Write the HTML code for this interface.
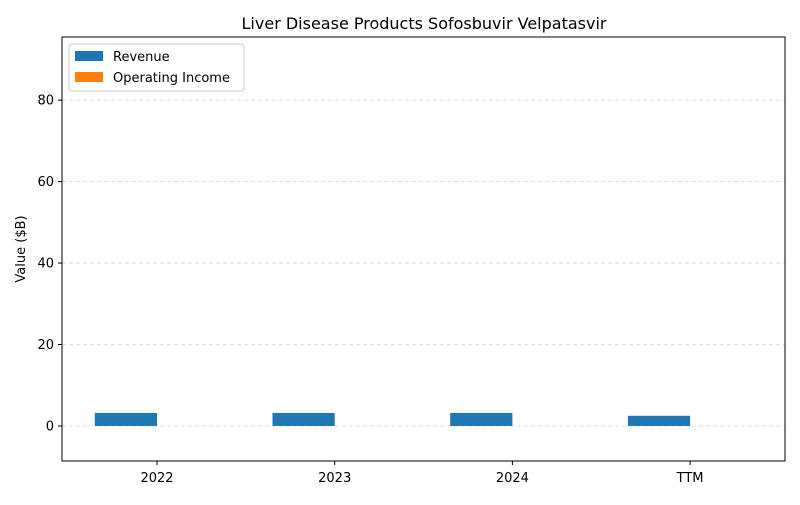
<!DOCTYPE html>
<html><head><meta charset="utf-8"><style>
body{margin:0;background:#fff;font-family:"Liberation Sans","DejaVu Sans",sans-serif}
svg text{font-family:"DejaVu Sans","Liberation Sans",sans-serif}
</style></head><body>
<svg id="chart" width="800" height="500" xmlns="http://www.w3.org/2000/svg">
<rect width="800" height="500" fill="#fff"/>
<text x="424" y="29" text-anchor="middle" font-size="16">Liver Disease Products Sofosbuvir Velpatasvir</text>
<g id="grid"></g><g id="bars"></g>
<rect x="62" y="37" width="723" height="424" fill="none" stroke="#000" stroke-width="1"/>
<g id="axes"></g>
<text transform="translate(25,249) rotate(-90)" text-anchor="middle" font-size="13">Value ($B)</text>
<g>
<rect x="69" y="44" width="175" height="47" fill="#fff" stroke="#ccc" rx="3"/>
<rect x="75" y="51" width="28" height="10" fill="#1f77b4"/>
<text x="113" y="61" font-size="13">Revenue</text>
<rect x="75" y="72" width="28" height="10" fill="#ff7f0e"/>
<text x="113" y="82" font-size="13">Operating Income</text>
</g>
</svg>
<script>
const categories=["2022","2023","2024","TTM"];
const revenue=[3.2,3.2,3.2,2.5];
const operatingIncome=[0,0,0,0];
const yTicks=[0,20,40,60,80];
const NS="http://www.w3.org/2000/svg";
const yMin=-8.6,yMax=95.5,plotTop=37,plotBot=461;
function y(v){return plotBot-(v-yMin)/(yMax-yMin)*(plotBot-plotTop);}
function x(i){return 157+i*177.7;}
const bw=0.35*177.7;
function mk(tag,attrs,parent){const e=document.createElementNS(NS,tag);for(const k in attrs)e.setAttribute(k,attrs[k]);document.getElementById(parent).appendChild(e);return e;}
yTicks.forEach(t=>{
  const g=mk("line",{x1:62,x2:785,y1:y(t),y2:y(t),stroke:"#d3d3d3","stroke-dasharray":"4,3","stroke-width":0.8},"grid");
  
  
  const tk=mk("line",{x1:58,x2:62,y1:y(t),y2:y(t),stroke:"#000"},"axes");
  
  
  const l=mk("text",{x:54,y:y(t)+4.5,"text-anchor":"end","font-size":13},"axes");
  l.textContent=t;
  
  
});
categories.forEach((c,i)=>{
  const r=revenue[i];
  const b=mk("rect",{x:x(i)-bw,y:Math.min(y(r),y(0)),width:bw,height:Math.abs(y(0)-y(r)),fill:"#1f77b4"},"bars");
  
  
  const o=operatingIncome[i];
  const b2=mk("rect",{x:x(i),y:Math.min(y(o),y(0)),width:bw,height:Math.abs(y(0)-y(o)),fill:"#ff7f0e"},"bars");
  
  
  const tk=mk("line",{x1:x(i),x2:x(i),y1:461,y2:465,stroke:"#000"},"axes");
  
  
  const l=mk("text",{x:x(i),y:482,"text-anchor":"middle","font-size":13},"axes");
  l.textContent=c;
  
  
});
</script>
</body></html>
